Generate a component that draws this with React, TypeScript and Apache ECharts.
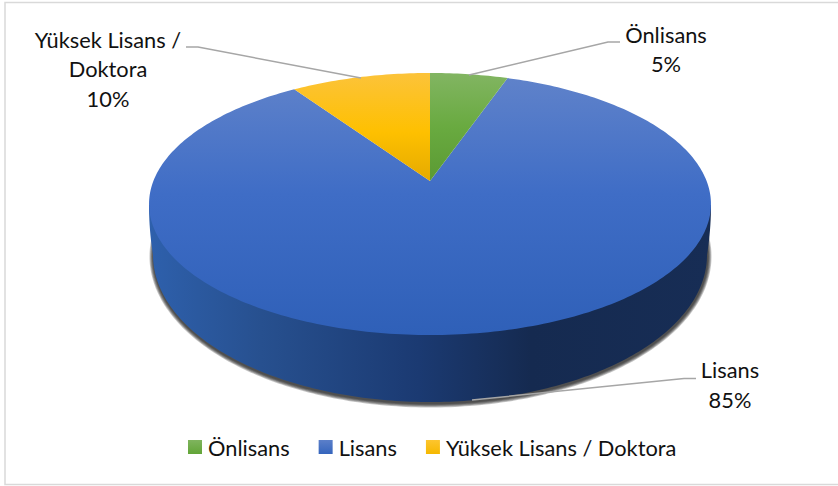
import React, { useEffect, useRef } from "react";
import * as echarts from "echarts";

const categories = ["Önlisans", "Lisans", "Yüksek Lisans / Doktora"];
const labelNames = ["Önlisans", "Lisans", "Yüksek Lisans /\nDoktora"];
// Slice shares; the labels show them rounded.
const shares = [5.3, 85.2, 9.5];

const FONT = "Lato";
const FONT_SIZE = 21.8;
const CX = 430;
const R = 276.6;
const PERSP = 0.1756;
const YA = -95.18;
const YB = 181;
const BASE_CY = 255;
const BASE_RY = 147;
const BASE_RX = 277;

function project(deg: number): number[] {
  const a = (deg * Math.PI) / 180;
  const u = Math.sin(a);
  const v = Math.cos(a);
  const w = 1 + PERSP * v;
  return [CX + (R * u) / w, (YA * v + YB) / w];
}

function arc(from: number, to: number): number[][] {
  const n = Math.max(2, Math.ceil(Math.abs(to - from)));
  const pts: number[][] = [];
  for (let i = 0; i <= n; i++) pts.push(project(from + ((to - from) * i) / n));
  return pts;
}

function sidePoints(): number[][] {
  const pts: number[][] = [[711, 205]];
  for (let t = 0; t <= 1; t += 0.1) {
    pts.push([711 - 4 * t * t, 205 + 50 * t]);
  }
  for (let d = 0; d <= 180; d += 1) {
    const a = (d * Math.PI) / 180;
    pts.push([CX + BASE_RX * Math.cos(a), BASE_CY + BASE_RY * Math.sin(a)]);
  }
  for (let t = 1; t >= 0; t -= 0.1) {
    pts.push([149 + 4 * t * t, 205 + 50 * t]);
  }
  return pts;
}

function shadowPoints(grow: number): number[][] {
  const pts: number[][] = [];
  for (let d = -14; d <= 194; d += 1) {
    const a = (d * Math.PI) / 180;
    pts.push([
      CX + 0.5 + (BASE_RX + grow) * Math.cos(a),
      BASE_CY + 1.5 + (BASE_RY + grow) * Math.sin(a),
    ]);
  }
  return pts;
}

const v = (stops: [number, string][]) => ({
  type: "linear", x: 0, y: 0, x2: 0, y2: 1,
  colorStops: stops.map(([offset, color]) => ({ offset, color })),
});
const h = (stops: [number, string][]) => ({
  type: "linear", x: 0, y: 0, x2: 1, y2: 0,
  colorStops: stops.map(([offset, color]) => ({ offset, color })),
});

const faceFills = [
  v([[0, "#82b562"], [0.5, "#69aa40"], [1, "#5b9a33"]]),
  v([[0, "#5f82ca"], [0.45, "#3f6dc6"], [1, "#2f60b8"]]),
  v([[0, "#fcc33a"], [0.55, "#fec000"], [1, "#e5aa00"]]),
];
const legendFills = [
  v([[0, "#7fb45e"], [1, "#62a537"]]),
  v([[0, "#5b7fc9"], [1, "#3565bd"]]),
  v([[0, "#fdc52f"], [1, "#f5b800"]]),
];
const sideFill = h([
  [0, "#2e60ac"], [0.2, "#27508f"], [0.48, "#1b3a72"], [0.68, "#152a50"], [1, "#172d55"],
]);

const labelPlace = [
  { x: 666, y: 49 },
  { x: 730, y: 384.5 },
  { x: 108, y: 68.5 },
];
const leaders = [
  [[620, 42], [608, 42], [469, 75]],
  [[696, 378.5], [684, 378.5], [472, 400]],
  [[186, 47], [198, 47], [361, 78]],
];
const shadowSteps = [4, 3.2, 2.4, 1.6, 0.8];

export default function App() {
  const ref = useRef<HTMLDivElement>(null);
  useEffect(() => {
    const chart = echarts.init(ref.current!, null, { renderer: "svg" });
    const total = shares.reduce((a, b) => a + b, 0);
    const drawOrder = [1, 2, 0];
    const series = drawOrder.map((idx) => {
      const before = shares.slice(0, idx).reduce((a, b) => a + b, 0);
      return {
        type: "custom",
        name: categories[idx],
        coordinateSystem: "none",
        silent: true,
        itemStyle: { color: legendFills[idx] },
        data: [[shares[idx]]],
        renderItem: (_: any, api: any) => {
          const value = api.value(0) as number;
          const start = (before / total) * 360;
          const end = start + (value / total) * 360;
          const children: any[] = [];
          if (idx === 1) {
            shadowSteps.forEach((g) => {
              children.push({
                type: "polygon",
                shape: { points: shadowPoints(g) },
                style: { fill: "rgba(20,20,20,0.24)" },
              });
            });
            children.push({
              type: "polygon",
              shape: { points: sidePoints() },
              style: { fill: sideFill },
            });
          }
          children.push({
            type: "polygon",
            shape: { points: [[CX, YB], ...arc(start, end)] },
            style: { fill: faceFills[idx] },
          });
          children.push({
            type: "polyline",
            shape: { points: leaders[idx] },
            style: { stroke: "#a6a6a6", lineWidth: 1.5, fill: "none" },
          });
          children.push({
            type: "text",
            style: {
              text: `${labelNames[idx]}\n${Math.round(value)}%`,
              x: labelPlace[idx].x,
              y: labelPlace[idx].y,
              align: "center",
              verticalAlign: "middle",
              fontFamily: FONT,
              fontSize: FONT_SIZE,
              lineHeight: 29.5,
              fill: "#111111",
            },
          });
          return { type: "group", children };
        },
      };
    });
    chart.setOption({
      animation: false,
      backgroundColor: "#ffffff",
      legend: {
        data: categories,
        left: 183,
        top: 431,
        icon: "rect",
        itemWidth: 14,
        itemHeight: 14,
        itemGap: 29,
        selectedMode: false,
        textStyle: { fontFamily: FONT, fontSize: FONT_SIZE, color: "#111111", padding: [0, 0, 0, 1] },
      },
      graphic: [
        {
          type: "rect",
          silent: true,
          z: -1,
          shape: { x: 5, y: 2.5, width: 840, height: 482 },
          style: { fill: "none", stroke: "#d9d9d9", lineWidth: 1.5 },
        },
      ],
      series,
    });
    return () => chart.dispose();
  }, []);
  return <div ref={ref} style={{ position: "fixed", left: 0, top: 0, width: 838, height: 486 }} />;
}
